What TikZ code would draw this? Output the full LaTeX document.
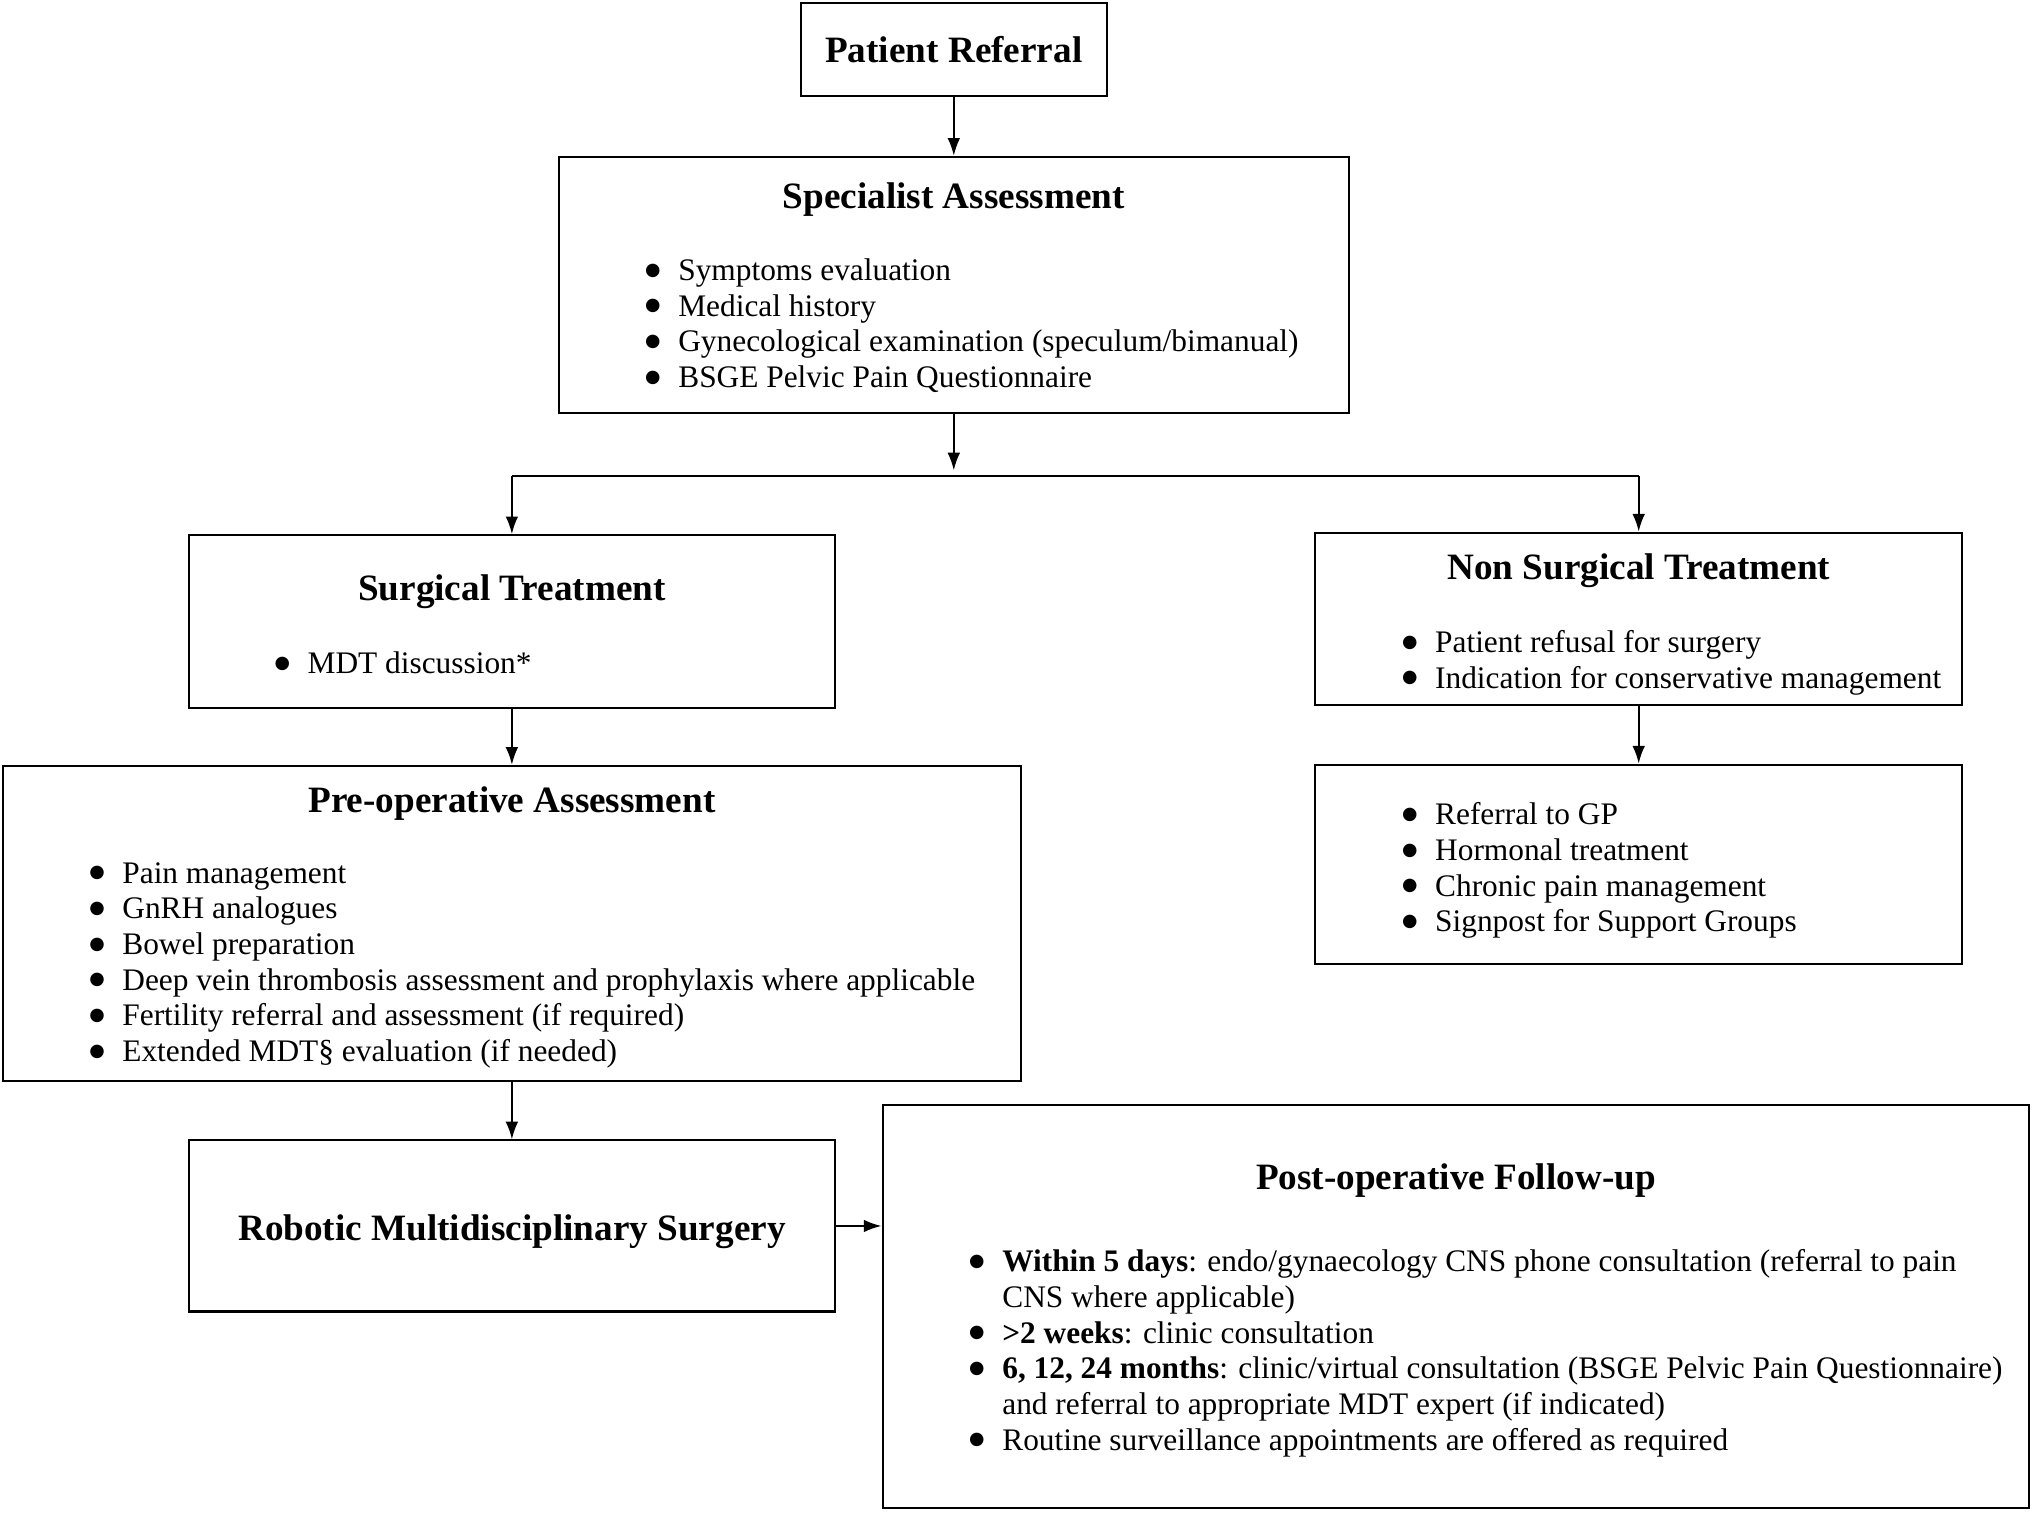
\documentclass[tikz,border=0pt]{standalone}
\usepackage{fontspec}
\setmainfont{Liberation Serif}
\newfontfamily\dotfont{DejaVu Sans}
\usetikzlibrary{arrows.meta,fit}

\tikzset{
  box/.style={draw, line width=0.8pt, inner sep=0pt},
  head/.style={font=\fontsize{14.7}{17}\selectfont\bfseries, inner sep=0pt, anchor=base},
  items/.style={font=\fontsize{12.4}{14.1}\selectfont, align=left, inner sep=0pt, anchor=base west},
  flow/.style={-{Latex[length=7pt,width=5pt]}, line width=0.8pt}
}
\newcommand{\itm}{\makebox[0.46cm][l]{\raisebox{2.1pt}{\dotfont\fontsize{7}{8}\selectfont ●}}}
\newcommand{\cnt}{\hspace*{0.46cm}}

\begin{document}
\begin{tikzpicture}[x=0.018cm, y=-0.018cm]
\useasboundingbox (0,0) rectangle (1568,1166.8);
% boxes
\node[box, fit={(618,2) (854,74)}] (referral) {};
\node[box, fit={(431,121) (1041,319)}] (spec) {};
\node[box, fit={(146,413) (644,546)}] (surg) {};
\node[box, fit={(1015,411) (1514,544)}] (nonsurg) {};
\node[box, fit={(2,591) (788,834)}] (preop) {};
\node[box, fit={(1015,590) (1514,744)}] (nsopts) {};
\node[box, fit={(146,880) (644,1012)}] (robot) {};
\node[box, fit={(681,853) (1566,1164)}] (post) {};
% titles
\node[head] (referraltitle) at (736,48) {Patient Referral};
\node[head] (spectitle) at (736,161) {Specialist Assessment};
\node[head] (surgtitle) at (395,463) {Surgical Treatment};
\node[head] (nonsurgtitle) at (1264.5,447) {Non Surgical Treatment};
\node[head] (preoptitle) at (395,627) {Pre-operative Assessment};
\node[head] (robottitle) at (395,957) {Robotic Multidisciplinary Surgery};
\node[head] (posttitle) at (1123.5,918) {Post-operative Follow-up};
% bullet lists (placed at the baseline of their last line)
\node[items] (specitems) at (497.5,299) {\itm Symptoms evaluation\\
  \itm Medical history\\
  \itm Gynecological examination (speculum/bimanual)\\
  \itm BSGE Pelvic Pain Questionnaire};
\node[items] (surgitems) at (211.5,520) {\itm MDT discussion*};
\node[items] (nonsurgitems) at (1081.5,531) {\itm Patient refusal for surgery\\
  \itm Indication for conservative management};
\node[items] (preopitems) at (68.5,819) {\itm Pain management\\
  \itm GnRH analogues\\
  \itm Bowel preparation\\
  \itm Deep vein thrombosis assessment and prophylaxis where applicable\\
  \itm Fertility referral and assessment (if required)\\
  \itm Extended MDT§ evaluation (if needed)};
\node[items] (nsoptsitems) at (1081.5,719) {\itm Referral to GP\\
  \itm Hormonal treatment\\
  \itm Chronic pain management\\
  \itm Signpost for Support Groups};
\node[items] (postitems) at (747.5,1119) {\itm\textbf{Within 5 days}: endo/gynaecology CNS phone consultation (referral to pain\\
  \cnt CNS where applicable)\\
  \itm\textbf{>2 weeks}: clinic consultation\\
  \itm\textbf{6, 12, 24 months}: clinic/virtual consultation (BSGE Pelvic Pain Questionnaire)\\
  \cnt and referral to appropriate MDT expert (if indicated)\\
  \itm Routine surveillance appointments are offered as required};
% connectors
\coordinate (split) at (736,363);
\coordinate (fork) at (736,367);
\draw[flow] (referral.south) -- (spec.north);
\draw[flow] (spec.south) -- (split);
\draw[line width=0.8pt] (fork -| surg.north) -- (fork -| nonsurg.north);
\draw[flow] (fork -| surg.north) -- (surg.north);
\draw[flow] (fork -| nonsurg.north) -- (nonsurg.north);
\draw[flow] (surg.south) -- (preop.north);
\draw[flow] (nonsurg.south) -- (nsopts.north);
\draw[flow] (preop.south) -- (robot.north);
\draw[flow] (robot.east) -- (robot.east -| post.west);
\end{tikzpicture}
\end{document}
